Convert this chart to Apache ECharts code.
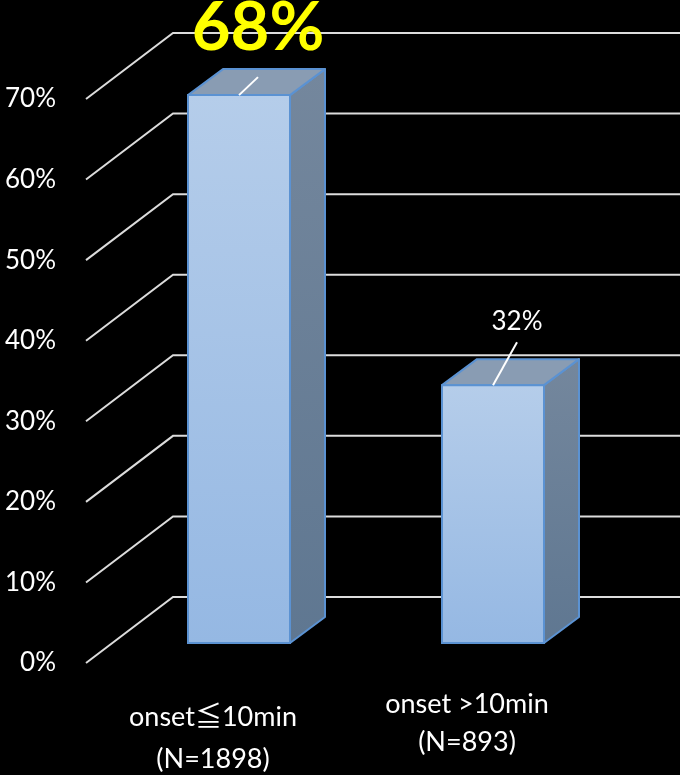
<!DOCTYPE html>
<html>
<head>
<meta charset="utf-8">
<script src="https://cdn.jsdelivr.net/npm/echarts@6/dist/echarts.min.js"></script>
<style>
  html, body { margin: 0; padding: 0; background: #000; }
  #chart { width: 680px; height: 775px; }
</style>
</head>
<body>
<div id="chart"></div>
<script>
// Share of cases by onset time
const categories = ['onset≦10min\n(N=1898)', 'onset >10min\n(N=893)'];
const shares = [68, 32];
const yTicks = [0, 10, 20, 30, 40, 50, 60, 70];

// 3D look: offset from the front plane to the back wall, and to the bar faces
const WALL_DX = 87, WALL_DY = -66;
const FACE_DX = 26, FACE_DY = -20;
const DEPTH_DX = 35, DEPTH_DY = -26;
const BAR_W = 102;

// value label styles, one per bar (offsets from the bar's front-top centre)
const labelStyles = [
  { fill: '#ffff00', fontSize: 67, fontWeight: 'bold', dx: 19, dy: -67, lineX: 19, lineY: -18 },
  { fill: '#ffffff', fontSize: 26, fontWeight: 'normal', dx: 24, dy: -64, lineX: 24, lineY: -43 }
];

const FONT = 'Lato, "Noto Sans", "Noto Sans CJK JP", sans-serif';
const chart = echarts.init(document.getElementById('chart'), null, { renderer: 'canvas' });

// gridline: diagonal from the front plane up to the back wall, then across the wall
function renderGrid(params, api) {
  const cs = params.coordSys;
  const y = api.coord([0, api.value(1)])[1];
  return {
    type: 'polyline',
    shape: { points: [[cs.x, y], [cs.x + WALL_DX, y + WALL_DY], [cs.x + cs.width + WALL_DX, y + WALL_DY]] },
    style: { stroke: '#dcdcdc', lineWidth: 2, fill: null }
  };
}

// box-shaped bar with side face, top face, front face, leader line and value label
function renderBar(params, api) {
  const idx = params.dataIndex;
  const v = api.value(1);
  const top = api.coord([api.value(0), v]);
  const base = api.coord([api.value(0), 0]);
  const cx = top[0] + FACE_DX;
  const xl = cx - BAR_W / 2, xr = cx + BAR_W / 2;
  const yt = top[1] + FACE_DY, yb = base[1] + FACE_DY;
  const edge = '#5b92d2';
  const ls = labelStyles[idx];
  return {
    type: 'group',
    children: [
      { // right side face
        type: 'polygon',
        shape: { points: [[xr, yt], [xr + DEPTH_DX, yt + DEPTH_DY], [xr + DEPTH_DX, yb + DEPTH_DY], [xr, yb]] },
        style: {
          fill: new echarts.graphic.LinearGradient(0, 0, 0, 1, [
            { offset: 0, color: '#74879d' }, { offset: 1, color: '#5f7791' }
          ]),
          stroke: edge, lineWidth: 2, lineJoin: 'round'
        }
      },
      { // top face
        type: 'polygon',
        shape: { points: [[xl, yt], [xl + DEPTH_DX, yt + DEPTH_DY], [xr + DEPTH_DX, yt + DEPTH_DY], [xr, yt]] },
        style: { fill: '#899cb3', stroke: edge, lineWidth: 2, lineJoin: 'round' }
      },
      { // front face
        type: 'rect',
        shape: { x: xl, y: yt, width: BAR_W, height: yb - yt },
        style: {
          fill: new echarts.graphic.LinearGradient(0, 0, 0, 1, [
            { offset: 0, color: '#b5cdea' }, { offset: 1, color: '#95b8e3' }
          ]),
          stroke: edge, lineWidth: 2
        }
      },
      { // leader line
        type: 'line',
        shape: { x1: cx + ls.lineX, y1: yt + ls.lineY, x2: cx, y2: yt },
        style: { stroke: '#ffffff', lineWidth: 2 }
      },
      { // value label
        type: 'text',
        style: {
          x: cx + ls.dx, y: yt + ls.dy,
          text: v + '%',
          fill: ls.fill,
          font: ls.fontWeight + ' ' + ls.fontSize + 'px ' + FONT,
          align: 'center', verticalAlign: 'middle'
        }
      }
    ]
  };
}

chart.setOption({
  backgroundColor: '#000000',
  animation: false,
  grid: { left: 86, right: 86, top: 99, bottom: 112, outerBoundsMode: 'none' },
  xAxis: {
    type: 'category',
    data: [
      { value: categories[0], textStyle: { lineHeight: 42, padding: [11, 0, 0, 0] } },
      { value: categories[1], textStyle: { lineHeight: 38 } }
    ],
    axisLine: { show: false },
    axisTick: { show: false },
    axisLabel: {
      color: '#ffffff', fontSize: 27, fontFamily: FONT,
      margin: 22, lineHeight: 38, interval: 0
    }
  },
  yAxis: {
    type: 'value',
    min: 0, max: 70, interval: 10,
    axisLine: { show: false },
    axisTick: { show: false },
    splitLine: { show: false },
    axisLabel: {
      color: '#ffffff', fontSize: 26, fontFamily: FONT, margin: 30,
      formatter: '{value}%'
    }
  },
  series: [
    {
      type: 'custom',
      renderItem: renderGrid,
      data: yTicks.map(v => [0, v]),
      encode: { x: 0, y: 1 },
      z: 1,
      silent: true
    },
    {
      type: 'custom',
      renderItem: renderBar,
      data: shares.map((v, i) => [i, v]),
      encode: { x: 0, y: 1 },
      z: 2,
      clip: false
    }
  ]
});
</script>
</body>
</html>
